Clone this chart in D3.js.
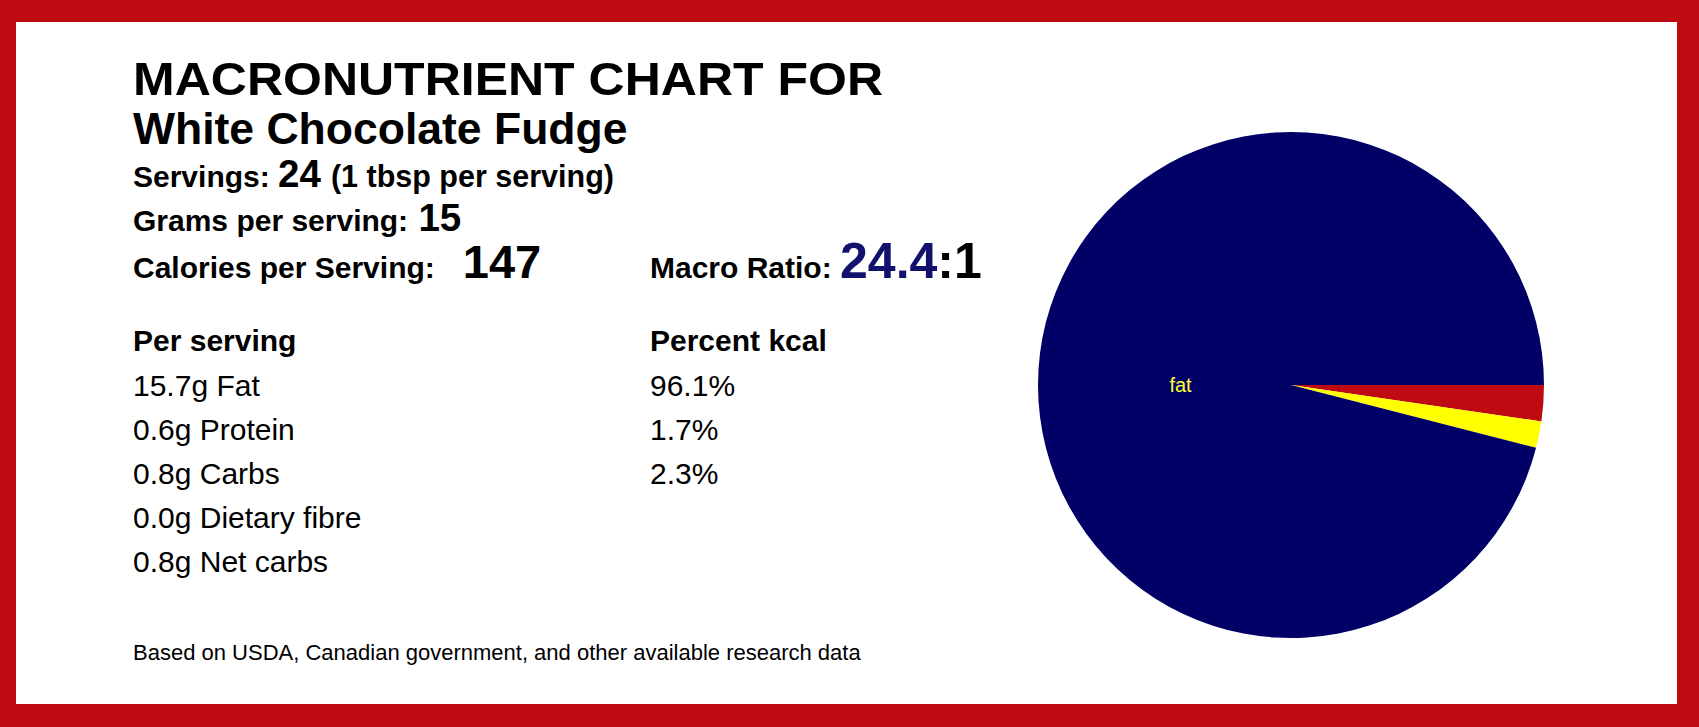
<!DOCTYPE html>
<html>
<head>
<meta charset="utf-8">
<script src="https://cdn.jsdelivr.net/npm/d3@7"></script>
<style>
  html, body { margin: 0; padding: 0; background: #fff; }
  svg { display: block; }
  text { font-family: "Liberation Sans", Arial, Helvetica, sans-serif; fill: #000; }
</style>
</head>
<body>
<svg id="chart" width="1699" height="727"></svg>
<script>
// ---- data ----
const recipeName = "White Chocolate Fudge";
const servings = 24;
const servingSize = "(1 tbsp per serving)";
const gramsPerServing = 15;
const caloriesPerServing = 147;
const macroRatio = 24.4;

const perServingNames = ["Fat", "Protein", "Carbs", "Dietary fibre", "Net carbs"];
const perServingGrams = [15.7, 0.6, 0.8, 0.0, 0.8];

const percentNames = ["Fat", "Protein", "Carbs"];
const percentKcal = [96.1, 1.7, 2.3];

// pie drawing order (clockwise from 3 o'clock)
const pieNames = ["carbs", "protein", "fat"];
const pieValues = [2.3, 1.7, 96.1];
const pieLabels = ["", "", "fat"];
const pieColors = ["#be0a10", "#ffff00", "#000066"];

const footerText = "Based on USDA, Canadian government, and other available research data";

// ---- drawing ----
const W = 1699, H = 727;
const svg = d3.select("#chart");

// red frame
svg.append("rect").attr("x", 0).attr("y", 0).attr("width", W).attr("height", H).attr("fill", "#be0a10");
svg.append("rect").attr("x", 16).attr("y", 22).attr("width", 1661).attr("height", 682).attr("fill", "#ffffff");

const left = 133, col2 = 650;

svg.append("text").attr("x", left).attr("y", 95)
  .attr("font-size", 47).attr("font-weight", "bold")
  .attr("textLength", 750).attr("lengthAdjust", "spacingAndGlyphs")
  .text("MACRONUTRIENT CHART FOR");

svg.append("text").attr("x", left).attr("y", 144)
  .attr("font-size", 44.5).attr("font-weight", "bold")
  .text(recipeName);

const t1 = svg.append("text").attr("x", left).attr("y", 187).attr("font-weight", "bold");
t1.append("tspan").attr("font-size", 30).text("Servings: ");
t1.append("tspan").attr("font-size", 38.5).text(servings);
t1.append("tspan").attr("font-size", 30.5).attr("dx", 10).text(servingSize);

const t2 = svg.append("text").attr("x", left).attr("y", 231).attr("font-weight", "bold");
t2.append("tspan").attr("font-size", 30).text("Grams per serving: ");
t2.append("tspan").attr("font-size", 38.5).attr("dx", 2).text(gramsPerServing);

const t3 = svg.append("text").attr("x", left).attr("y", 278).attr("font-weight", "bold");
t3.append("tspan").attr("font-size", 30).text("Calories per Serving:");
t3.append("tspan").attr("font-size", 47).attr("dx", 28).text(caloriesPerServing);

const t4 = svg.append("text").attr("x", col2).attr("y", 278).attr("font-weight", "bold");
t4.append("tspan").attr("font-size", 30).text("Macro Ratio: ");
t4.append("tspan").attr("font-size", 50).style("fill", "#12126e").text(d3.format(".1f")(macroRatio));
t4.append("tspan").attr("font-size", 50).text(":1");

svg.append("text").attr("x", left).attr("y", 351).attr("font-size", 30).attr("font-weight", "bold").text("Per serving");
svg.append("text").attr("x", col2).attr("y", 351).attr("font-size", 30).attr("font-weight", "bold").text("Percent kcal");

const rowY = d3.scaleLinear().domain([0, 1]).range([396, 440]);

svg.append("g").selectAll("text").data(perServingNames).join("text")
  .attr("x", left).attr("y", (d, i) => rowY(i))
  .attr("font-size", 30)
  .text((d, i) => d3.format(".1f")(perServingGrams[i]) + "g " + d);

svg.append("g").selectAll("text").data(percentNames).join("text")
  .attr("x", col2).attr("y", (d, i) => rowY(i))
  .attr("font-size", 30)
  .text((d, i) => d3.format(".1f")(percentKcal[i]) + "%");

svg.append("text").attr("x", left).attr("y", 660).attr("font-size", 22).text(footerText);

// pie
const cx = 1291, cy = 385, r = 253;
const pie = d3.pie().sort(null).value(d => d)
  .startAngle(Math.PI / 2).endAngle(Math.PI / 2 + 2 * Math.PI);
const arcs = pie(pieValues);
const arc = d3.arc().innerRadius(0).outerRadius(r);
const labelArc = d3.arc().innerRadius(r * 0.44).outerRadius(r * 0.44);

const g = svg.append("g").attr("transform", `translate(${cx},${cy})`);
g.selectAll("path").data(arcs).join("path")
  .attr("d", arc)
  .attr("fill", (d, i) => pieColors[i]);

// label placed horizontally at the centroid's x, on the pie's horizontal axis
g.selectAll("text.lbl").data(arcs).join("text")
  .attr("class", "lbl")
  .attr("transform", d => `translate(${labelArc.centroid(d)[0]},0)`)
  .attr("text-anchor", "middle").attr("dy", "0.35em")
  .attr("font-size", 20)
  .style("fill", "#ffff33")
  .text((d, i) => pieLabels[i]);
</script>
</body>
</html>
